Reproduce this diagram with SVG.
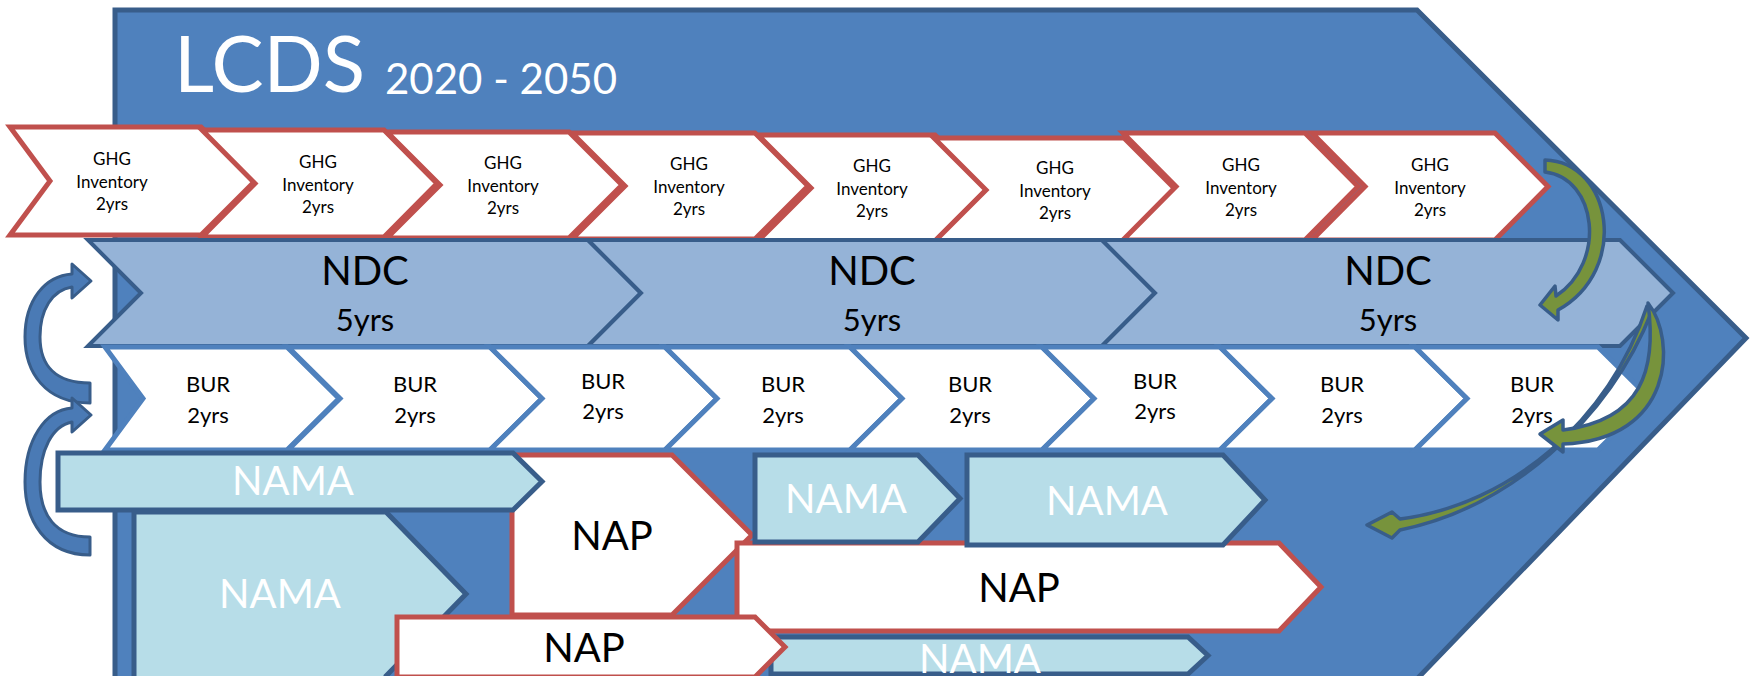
<svg xmlns="http://www.w3.org/2000/svg" width="1753" height="676" viewBox="0 0 1753 676">
  <style>
    text { font-family: Lato, "Liberation Sans", sans-serif; text-anchor: middle; }
    .frame { fill: #4f81bd; stroke: #385d8a; stroke-width: 5; stroke-linejoin: miter; }
    .ghg { fill: #ffffff; stroke: #c0504d; stroke-width: 5; }
    .ndc { fill: #95b3d7; stroke: #385d8a; stroke-width: 4; }
    .bur { fill: #ffffff; stroke: #4f81bd; stroke-width: 5; }
    .nama { fill: #b7dde8; stroke: #385d8a; stroke-width: 5; }
    .nap { fill: #ffffff; stroke: #c0504d; stroke-width: 5; }
    .cyc { fill: #4a7ab5; stroke: #385d8a; stroke-width: 3; stroke-linejoin: round; }
    .fb { fill: #77933c; stroke: #385d8a; stroke-width: 3.5; stroke-linejoin: round; }
    .t-ghg { font-size: 17px; fill: #000000; }
    .t-bur { font-size: 22px; fill: #000000; }
    .t-ndc { font-size: 40px; fill: #000000; }
    .t-ndc2 { font-size: 31px; fill: #000000; }
    .t-nama { font-size: 40px; fill: #ffffff; }
    .t-nap { font-size: 40px; fill: #000000; }
  </style>

  <!-- LCDS frame arrow -->
  <g id="lcds">
    <path class="frame" d="M115,10 H1417 L1746,338 L1416,680 H115 Z"/>
    <text x="174" y="92" style="text-anchor:start;font-size:78px;fill:#ffffff">LCDS</text>
    <text x="385" y="94" style="text-anchor:start;font-size:42px;fill:#ffffff">2020 - 2050</text>
  </g>

  <!-- GHG inventory cycle -->
  <g id="ghg1"><path class="ghg" d="M10,127 H201 L255,181 L201,235 H10 L50,181 Z"/>
    <text class="t-ghg" x="112" y="165">GHG</text><text class="t-ghg" x="112" y="188">Inventory</text><text class="t-ghg" x="112" y="210">2yrs</text></g>
  <g id="ghg2"><path class="ghg" d="M202,130 H384 L437,183.5 L384,237 H202 L255,183.5 Z"/>
    <text class="t-ghg" x="318" y="167.5">GHG</text><text class="t-ghg" x="318" y="190.5">Inventory</text><text class="t-ghg" x="318" y="212.5">2yrs</text></g>
  <g id="ghg3"><path class="ghg" d="M387,132 H569 L622,185 L569,238 H387 L440,185 Z"/>
    <text class="t-ghg" x="503" y="169">GHG</text><text class="t-ghg" x="503" y="192">Inventory</text><text class="t-ghg" x="503" y="214">2yrs</text></g>
  <g id="ghg4"><path class="ghg" d="M572,133 H755 L808,186 L755,239 H572 L625,186 Z"/>
    <text class="t-ghg" x="689" y="170">GHG</text><text class="t-ghg" x="689" y="193">Inventory</text><text class="t-ghg" x="689" y="215">2yrs</text></g>
  <g id="ghg5"><path class="ghg" d="M758,135 H935 L988,188 L935,241 H758 L811,188 Z"/>
    <text class="t-ghg" x="872" y="172">GHG</text><text class="t-ghg" x="872" y="195">Inventory</text><text class="t-ghg" x="872" y="217">2yrs</text></g>
  <g id="ghg6"><path class="ghg" d="M934,138 H1124 L1176,190 L1124,242 H934 L986,190 Z"/>
    <text class="t-ghg" x="1055" y="174">GHG</text><text class="t-ghg" x="1055" y="197">Inventory</text><text class="t-ghg" x="1055" y="219">2yrs</text></g>
  <g id="ghg7"><path class="ghg" d="M1123,133 H1305 L1358,186.5 L1305,240 H1123 L1176,186.5 Z"/>
    <text class="t-ghg" x="1241" y="170.5">GHG</text><text class="t-ghg" x="1241" y="193.5">Inventory</text><text class="t-ghg" x="1241" y="215.5">2yrs</text></g>
  <g id="ghg8"><path class="ghg" d="M1312,133 H1495 L1548,186.5 L1495,240 H1312 L1365,186.5 Z"/>
    <text class="t-ghg" x="1430" y="170.5">GHG</text><text class="t-ghg" x="1430" y="193.5">Inventory</text><text class="t-ghg" x="1430" y="215.5">2yrs</text></g>

  <!-- NDC cycle -->
  <g id="ndc1"><path class="ndc" d="M88,240 H588 L641,293 L588,346 H88 L141,293 Z"/>
    <text class="t-ndc" x="365" y="285">NDC</text><text class="t-ndc2" x="365" y="331">5yrs</text></g>
  <g id="ndc2"><path class="ndc" d="M588,240 H1102 L1155,293 L1102,346 H588 L641,293 Z"/>
    <text class="t-ndc" x="872" y="285">NDC</text><text class="t-ndc2" x="872" y="331">5yrs</text></g>
  <g id="ndc3"><path class="ndc" d="M1102,240 H1620 L1673,293 L1620,346 H1102 L1155,293 Z"/>
    <text class="t-ndc" x="1388" y="285">NDC</text><text class="t-ndc2" x="1388" y="331">5yrs</text></g>

  <!-- BUR cycle -->
  <g id="bur1"><path class="bur" d="M105,347 H287 L339,398.5 L287,450 H105 L143,398.5 Z"/>
    <text class="t-bur" x="208" y="392">BUR</text><text class="t-bur" x="208" y="423">2yrs</text></g>
  <g id="bur2"><path class="bur" d="M288,347 H490 L542,398.5 L490,450 H288 L340,398.5 Z"/>
    <text class="t-bur" x="415" y="392">BUR</text><text class="t-bur" x="415" y="423">2yrs</text></g>
  <g id="bur3"><path class="bur" d="M490,347 H665 L717,398.5 L665,450 H490 L542,398.5 Z"/>
    <text class="t-bur" x="603" y="389">BUR</text><text class="t-bur" x="603" y="419">2yrs</text></g>
  <g id="bur4"><path class="bur" d="M665,347 H850 L902,398.5 L850,450 H665 L717,398.5 Z"/>
    <text class="t-bur" x="783" y="392">BUR</text><text class="t-bur" x="783" y="423">2yrs</text></g>
  <g id="bur5"><path class="bur" d="M850,347 H1042 L1094,398.5 L1042,450 H850 L902,398.5 Z"/>
    <text class="t-bur" x="970" y="392">BUR</text><text class="t-bur" x="970" y="423">2yrs</text></g>
  <g id="bur6"><path class="bur" d="M1042,347 H1220 L1272,398.5 L1220,450 H1042 L1094,398.5 Z"/>
    <text class="t-bur" x="1155" y="389">BUR</text><text class="t-bur" x="1155" y="419">2yrs</text></g>
  <g id="bur7"><path class="bur" d="M1220,347 H1415 L1467,398.5 L1415,450 H1220 L1272,398.5 Z"/>
    <text class="t-bur" x="1342" y="392">BUR</text><text class="t-bur" x="1342" y="423">2yrs</text></g>
  <g id="bur8"><path class="bur" d="M1415,347 H1598 L1650,398.5 L1598,450 H1415 L1467,398.5 Z"/>
    <text class="t-bur" x="1532" y="392">BUR</text><text class="t-bur" x="1532" y="423">2yrs</text></g>

  <!-- Action plans and NAMAs -->
  <g id="nap1"><path class="nap" d="M512,455 H672 L752,535 L672,615 H512 Z"/>
    <text class="t-nap" x="612" y="550">NAP</text></g>
  <g id="nama1"><path class="nama" d="M58,453 H513 L542,481.5 L513,510 H58 Z"/>
    <text class="t-nama" x="293" y="495">NAMA</text></g>
  <g id="nama2"><path class="nama" d="M134,512 H386 L466,594 L386,676 L386,682 H134 Z"/>
    <text class="t-nama" x="280" y="608">NAMA</text></g>
  <g id="nap2"><path class="nap" d="M737,543 H1279 L1321,587 L1279,631 H737 Z"/>
    <text class="t-nap" x="1019" y="602">NAP</text></g>
  <g id="nama3"><path class="nama" d="M755,455 H918 L960,498.5 L918,542 H755 Z"/>
    <text class="t-nama" x="846" y="513">NAMA</text></g>
  <g id="nama4"><path class="nama" d="M967,455 H1223 L1265,500 L1223,545 H967 Z"/>
    <text class="t-nama" x="1107" y="515">NAMA</text></g>
  <g id="nama5"><path class="nama" d="M771,637 H1188 L1208,655.5 L1188,674 H771 Z"/>
    <text class="t-nama" x="980" y="673">NAMA</text></g>
  <g id="nap3"><path class="nap" d="M397,617 H755 L785,647 L755,677 H397 Z"/>
    <text class="t-nap" x="584" y="662">NAP</text></g>

  <!-- Connectors -->
  <g id="connectors">
    <!-- review loops on the left -->
    <path class="cyc" d="M90,403 C45,403 25,372 25,337 C25,300 45,276 72,274 L72,264 L91,281 L72,298 L72,287 C52,290 40,310 40,337 C40,365 55,383 90,383 Z"/>
    <path class="cyc" d="M90,555 C45,555 25,520 25,482 C25,440 45,410 72,408 L72,398 L91,415 L72,432 L72,422 C52,426 40,450 40,482 C40,515 55,537 90,537 Z"/>
    <!-- feedback arrows on the right -->
    <path class="fb" d="M1545,160 C1612,162 1630,270 1558,310 L1558,320 L1540,305 L1555,286 L1556,296 C1607,262 1597,178 1545,172 Z"/>
    <path class="fb" d="M1647,306 C1610,420 1510,505 1400,519 L1392,512 L1367,525 L1392,538 L1400,530 C1508,508 1608,422 1652,311 Z"/>
    <path class="fb" d="M1648,303 C1677,340 1674,440 1563,444 L1563,452 L1540,434 L1563,420 L1563,430 C1642,420 1657,370 1648,303 Z"/>
  </g>
</svg>
